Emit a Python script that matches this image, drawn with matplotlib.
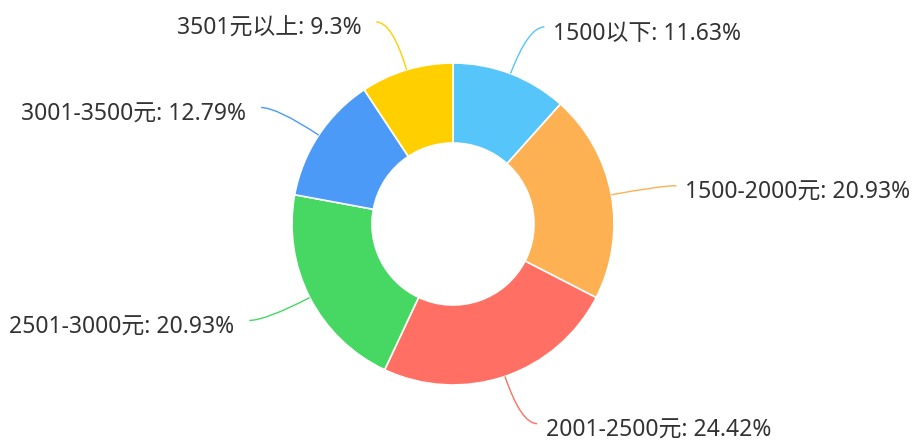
import numpy as np
import matplotlib
matplotlib.use("Agg")
import matplotlib.pyplot as plt
from matplotlib.path import Path
from matplotlib.patches import PathPatch

plt.rcParams['font.family'] = ['Noto Sans', 'Noto Sans CJK SC', 'DejaVu Sans']

categories = ["1500以下", "1500-2000元", "2001-2500元", "2501-3000元", "3001-3500元", "3501元以上"]
values = [11.63, 20.93, 24.42, 20.93, 12.79, 9.3]
colors = ["#56C5FA", "#FDB152", "#FF6F63", "#46D862", "#4C9AF7", "#FFCF00"]

W, H = 914, 441
fig = plt.figure(figsize=(W / 100, H / 100), dpi=100)
ax = fig.add_axes([0, 0, 1, 1])

cx, cy = 453, H - 224
R = 161
ring = 80

wedges, _ = ax.pie(values, colors=colors, startangle=90, counterclock=False,
                   radius=R, center=(cx, cy), frame=True,
                   wedgeprops=dict(width=ring, edgecolor='white', linewidth=1.2))
ax.set_xlim(0, W)
ax.set_ylim(0, H)
ax.set_aspect('equal')
ax.axis('off')

total = sum(values)
cum = 0
for cat, v, col in zip(categories, values, colors):
    mid = 90 - (cum + v / 2) / total * 360
    cum += v
    a = np.deg2rad(mid)
    dx, dy = np.cos(a), np.sin(a)
    p0 = (cx + R * dx, cy + R * dy)
    p1 = (cx + (R + 50) * dx, cy + (R + 50) * dy)
    side = 1 if dx >= 0 else -1
    p2 = (p1[0] + side * 16, p1[1])
    path = Path([p0, p1, p2], [Path.MOVETO, Path.CURVE3, Path.CURVE3])
    ax.add_patch(PathPatch(path, fill=False, edgecolor=col, lw=1.0))
    pct = f"{v:g}%"
    gap = 9 if side > 0 else 15
    ax.text(p2[0] + side * gap, p2[1] - 7, f"{cat}: {pct}", ha='left' if side > 0 else 'right',
            va='center', fontsize=16.5, color='#333333')

fig.savefig("out.png", dpi=100, facecolor='white')
